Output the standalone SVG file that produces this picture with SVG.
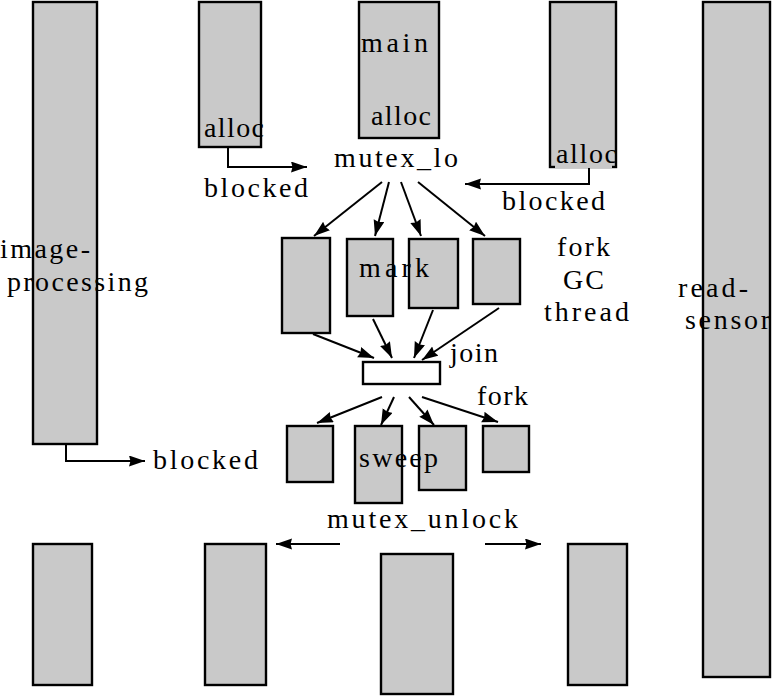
<svg xmlns="http://www.w3.org/2000/svg" width="772" height="696" viewBox="0 0 772 696">
<style>
.b{fill:#c9c9c9;stroke:#000;stroke-width:2.4}
.w{fill:#fff;stroke:#000;stroke-width:2.4}
.t{font-family:"Liberation Serif","DejaVu Serif",serif;font-size:28px;fill:#000}
.a{fill:none;stroke:#000;stroke-width:2;marker-end:url(#ah)}
</style>
<defs>
<marker id="ah" markerUnits="userSpaceOnUse" markerWidth="18" markerHeight="12" refX="16" refY="5.5" orient="auto">
<path d="M0,0 L16,5.5 L0,11 L1.5,5.5 z" fill="#000"/>
</marker>
</defs>
<rect width="772" height="696" fill="#fff"/>
<g id="connectors">
<path class="a" d="M228,147 V167 H307"/>
<path class="a" d="M589,167 V184 H465"/>
<path class="a" d="M66,444 V461 H145"/>
<line class="a" x1="382" y1="182" x2="314" y2="236"/>
<line class="a" x1="389" y1="182" x2="375" y2="236"/>
<line class="a" x1="401" y1="182" x2="421" y2="236"/>
<line class="a" x1="418" y1="182" x2="485" y2="236"/>
<line class="a" x1="313" y1="334" x2="374" y2="358"/>
<line class="a" x1="373" y1="319" x2="392" y2="358"/>
<line class="a" x1="433" y1="310" x2="414" y2="358"/>
<line class="a" x1="499" y1="308" x2="422" y2="360"/>
<line class="a" x1="382" y1="397" x2="317" y2="423"/>
<line class="a" x1="394" y1="397" x2="381" y2="425"/>
<line class="a" x1="409" y1="397" x2="434" y2="425"/>
<line class="a" x1="422" y1="397" x2="498" y2="422"/>
<line class="a" x1="340" y1="544" x2="276" y2="544"/>
<line class="a" x1="485" y1="544" x2="541" y2="544"/>
</g>
<g id="image-processing">
<rect class="b" x="33" y="2" width="64" height="442"/>
<text class="t" x="0" y="258" textLength="90" lengthAdjust="spacing">image-</text>
<text class="t" x="7" y="291" textLength="141" lengthAdjust="spacing">processing</text>
</g>
<g id="thread-left">
<rect class="b" x="199" y="2" width="62" height="145"/>
<text class="t" x="204" y="137" textLength="60" lengthAdjust="spacing">alloc</text>
</g>
<g id="main">
<rect class="b" x="359" y="2" width="80" height="136"/>
<text class="t" x="361" y="52" textLength="67" lengthAdjust="spacing">main</text>
<text class="t" x="371" y="125" textLength="60" lengthAdjust="spacing">alloc</text>
</g>
<g id="thread-right">
<rect class="b" x="550" y="2" width="66" height="165"/>
<rect x="555" y="148" width="57" height="20" fill="#c9c9c9"/>
<text class="t" x="556" y="163" textLength="61" lengthAdjust="spacing">alloc</text>
</g>
<g id="read-sensor">
<rect class="b" x="703" y="2" width="67" height="675"/>
<text class="t" x="678" y="297" textLength="70" lengthAdjust="spacing">read-</text>
<text class="t" x="685" y="329" textLength="85" lengthAdjust="spacing">sensor</text>
</g>
<g id="mutex-lock">
<text class="t" x="334" y="167" textLength="124" lengthAdjust="spacing">mutex_lo</text>
<text class="t" x="204" y="197" textLength="104" lengthAdjust="spacing">blocked</text>
<text class="t" x="502" y="210" textLength="103" lengthAdjust="spacing">blocked</text>
</g>
<g id="fork-gc">
<text class="t" x="557" y="256" textLength="53" lengthAdjust="spacing">fork</text>
<text class="t" x="563" y="289" textLength="41" lengthAdjust="spacing">GC</text>
<text class="t" x="544" y="321" textLength="85" lengthAdjust="spacing">thread</text>
</g>
<g id="mark">
<rect class="b" x="282" y="238" width="48" height="95"/>
<rect class="b" x="347" y="239" width="46" height="77"/>
<rect class="b" x="409" y="239" width="49" height="69"/>
<rect class="b" x="473" y="239" width="47" height="65"/>
<text class="t" x="359" y="277" textLength="70" lengthAdjust="spacing">mark</text>
</g>
<g id="join">
<rect class="w" x="363" y="362" width="77" height="22"/>
<text class="t" x="450" y="362" textLength="48" lengthAdjust="spacing">join</text>
<text class="t" x="477" y="405" textLength="51" lengthAdjust="spacing">fork</text>
</g>
<g id="sweep">
<rect class="b" x="287" y="426" width="46" height="56"/>
<rect class="b" x="355" y="426" width="47" height="77"/>
<rect class="b" x="419" y="426" width="47" height="64"/>
<rect class="b" x="483" y="426" width="46" height="46"/>
<text class="t" x="359" y="467" textLength="79" lengthAdjust="spacing">sweep</text>
</g>
<g id="blocked-ip">
<text class="t" x="153" y="469" textLength="105" lengthAdjust="spacing">blocked</text>
</g>
<g id="mutex-unlock">
<text class="t" x="327" y="528" textLength="191" lengthAdjust="spacing">mutex_unlock</text>
</g>
<g id="bottom-threads">
<rect class="b" x="33" y="544" width="59" height="141"/>
<rect class="b" x="205" y="544" width="61" height="141"/>
<rect class="b" x="381" y="554" width="72" height="140"/>
<rect class="b" x="568" y="544" width="59" height="141"/>
</g>
</svg>
